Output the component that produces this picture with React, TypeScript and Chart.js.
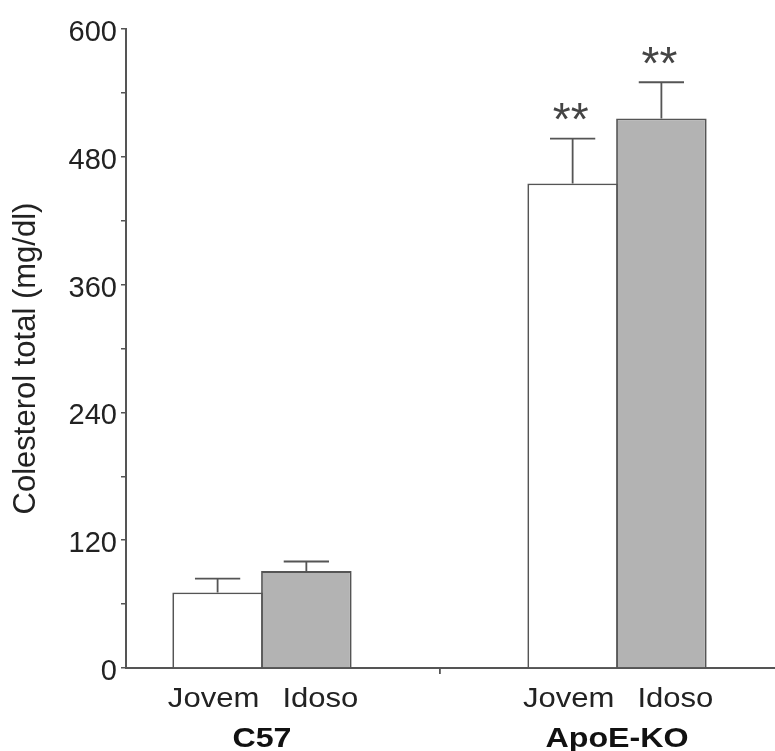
import React, { useEffect, useRef } from "react";
import { Chart, registerables } from "chart.js";

Chart.register(...registerables);

// Groups on the x axis and the two age classes inside each group
const groups = ["C57", "ApoE-KO"];
const ages = ["Jovem", "Idoso"];

// Mean total cholesterol (mg/dl) and the upper error (SEM)
const jovemMeans = [71, 455];
const idosoMeans = [91, 516];
const jovemErr = [13, 42];
const idosoErr = [9, 34];

// Significance marks above each bar
const jovemMarks = ["", "**"];
const idosoMarks = ["", "**"];

// y axis: 0..600, minor step 60, labelled every 120
const yTitle = "Colesterol total (mg/dl)";
const yMax = 600;
const yStep = 60;
const yLabelEvery = 120;

const FONT = "'Liberation Sans', Arial, sans-serif";
const AXIS = "#555555";
const TEXT = "#222222";

const means = [jovemMeans, idosoMeans];
const errs = [jovemErr, idosoErr];
const marks = [jovemMarks, idosoMarks];

// horizontal widening of the label lettering
const STRETCH = 1.15;
// small horizontal nudge of the age labels away from each other
const ageLabelShift = [-4, 14];

function stretchedText(ctx: CanvasRenderingContext2D, text: string, x: number, y: number) {
  ctx.save();
  ctx.translate(x, y);
  ctx.scale(STRETCH, 1);
  ctx.fillText(text, 0, 0);
  ctx.restore();
}

const overlay = {
  id: "overlay",
  afterDatasetsDraw(chart: any) {
    const ctx: CanvasRenderingContext2D = chart.ctx;
    const yScale = chart.scales.y;
    const xScale = chart.scales.x;

    chart.data.datasets.forEach((_ds: any, di: number) => {
      const meta = chart.getDatasetMeta(di);
      meta.data.forEach((bar: any, i: number) => {
        const { x, y, width } = bar.getProps(["x", "y", "width"], true);
        const capY = yScale.getPixelForValue(means[di][i] + errs[di][i]);
        ctx.save();
        ctx.strokeStyle = AXIS;
        ctx.lineWidth = 1.8;
        ctx.beginPath();
        ctx.moveTo(x, y);
        ctx.lineTo(x, capY);
        ctx.moveTo(x - width / 4, capY);
        ctx.lineTo(x + width / 4, capY);
        ctx.stroke();

        const m = marks[di][i];
        if (m) {
          ctx.fillStyle = "#444444";
          ctx.font = `46px ${FONT}`;
          ctx.textAlign = "center";
          ctx.textBaseline = "alphabetic";
          const mt = ctx.measureText("*");
          const centerY = capY - 27;
          const baseY = centerY + (mt.actualBoundingBoxAscent - mt.actualBoundingBoxDescent) / 2;
          const chars = m.split("");
          chars.forEach((c: string, k: number) => {
            const off = (k - (chars.length - 1) / 2) * 18;
            ctx.fillText(c, x - 2 + off, baseY);
          });
        }

        // age label under the bar
        ctx.fillStyle = TEXT;
        ctx.font = `27px ${FONT}`;
        ctx.textAlign = "center";
        ctx.textBaseline = "alphabetic";
        stretchedText(ctx, ages[di], x + ageLabelShift[di], 707);
        ctx.restore();
      });
    });

    // group labels
    ctx.save();
    ctx.fillStyle = "#111111";
    ctx.font = `bold 28px ${FONT}`;
    ctx.textAlign = "center";
    ctx.textBaseline = "alphabetic";
    groups.forEach((g, i) => {
      stretchedText(ctx, g, xScale.getPixelForValue(i), 747);
    });
    ctx.restore();

    // rotated y axis title, centred slightly below the plot middle
    const area = chart.chartArea;
    ctx.save();
    ctx.translate(26, (area.top + area.bottom) / 2 + 10);
    ctx.rotate(-Math.PI / 2);
    ctx.fillStyle = TEXT;
    ctx.font = `31px ${FONT}`;
    ctx.textAlign = "center";
    ctx.textBaseline = "middle";
    ctx.fillText(yTitle, 0, 0);
    ctx.restore();
  },
};

export default function App() {
  const ref = useRef<HTMLCanvasElement | null>(null);

  useEffect(() => {
    if (!ref.current) return;
    const chart = new Chart(ref.current, {
      type: "bar",
      data: {
        datasets: [
          {
            label: ages[0],
            data: groups.map((_g, i) => ({ x: i, y: jovemMeans[i] })),
            backgroundColor: "#ffffff",
            borderColor: AXIS,
            borderWidth: 1.8,
          },
          {
            label: ages[1],
            data: groups.map((_g, i) => ({ x: i, y: idosoMeans[i] })),
            backgroundColor: "#b3b3b3",
            borderColor: AXIS,
            borderWidth: 1.8,
          },
        ],
      },
      options: {
        responsive: false,
        animation: false,
        categoryPercentage: 0.5,
        barPercentage: 1.02,
        layout: { padding: { top: 29, left: 0, right: 0, bottom: 0 } },
        plugins: {
          legend: { display: false },
          tooltip: { enabled: false },
        },
        scales: {
          x: {
            type: "linear",
            offset: false,
            bounds: "data",
            min: -0.383,
            max: 1.445,
            afterBuildTicks: (scale: any) => {
              scale.ticks = [{ value: 0.5 }];
            },
            afterFit: (scale: any) => {
              scale.height = 83;
            },
            ticks: { display: false },
            grid: {
              offset: false,
              drawOnChartArea: false,
              drawTicks: true,
              tickLength: 6,
              color: AXIS,
              lineWidth: 1.8,
            },
            border: { display: true, color: AXIS, width: 2 },
          },
          y: {
            min: 0,
            max: yMax,
            afterFit: (scale: any) => {
              scale.width = 126;
            },
            ticks: {
              stepSize: yStep,
              color: TEXT,
              font: { family: FONT, size: 29 },
              padding: 4,
              labelOffset: 4,
              callback: (v: any) => (Number(v) % yLabelEvery === 0 ? String(v) : ""),
            },
            grid: {
              drawOnChartArea: false,
              drawTicks: true,
              tickLength: 5,
              color: AXIS,
              lineWidth: 1.5,
            },
            border: { display: true, color: AXIS, width: 2 },
          },
        },
      },
      plugins: [overlay],
    });
    return () => chart.destroy();
  }, []);

  return (
    <div style={{ position: "absolute", left: 0, top: 0, width: 775, height: 751, background: "#fff" }}>
      <canvas ref={ref} width={775} height={751} />
    </div>
  );
}
